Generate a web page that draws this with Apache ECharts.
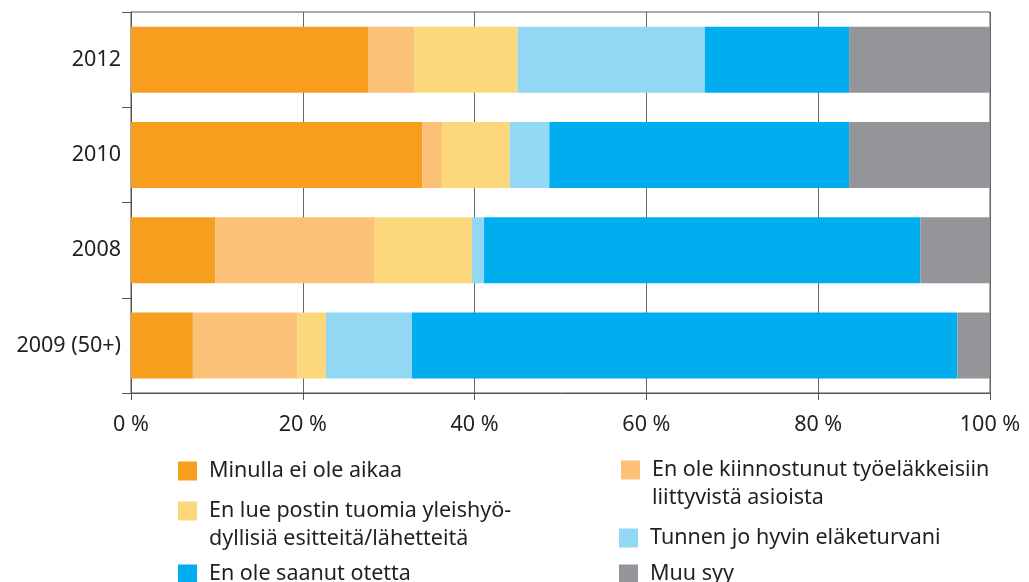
<!DOCTYPE html>
<html>
<head>
<meta charset="utf-8">
<script src="https://cdn.jsdelivr.net/npm/echarts@6/dist/echarts.min.js"></script>
<style>
  html, body { margin: 0; padding: 0; background: #fff; }
  #chart { width: 1029px; height: 582px; }
</style>
</head>
<body>
<div id="chart"></div>
<script>
// rows, top to bottom
const years = ["2012", "2010", "2008", "2009 (50+)"];

const seriesNames = [
  "Minulla ei ole aikaa",
  "En ole kiinnostunut työeläkkeisiin\nliittyvistä asioista",
  "En lue postin tuomia yleishyö-\ndyllisiä esitteitä/lähetteitä",
  "Tunnen jo hyvin eläketurvani",
  "En ole saanut otetta",
  "Muu syy",
];

// percent shares per row (same order as years)
const noTime = [27.6, 33.9, 9.8, 7.2];
const notInterested = [5.4, 2.3, 18.5, 12.2];
const dontRead = [12.0, 7.9, 11.4, 3.3];
const knowAlready = [21.8, 4.6, 1.4, 10.0];
const noStatement = [16.8, 34.9, 50.8, 63.5];
const otherReason = [16.4, 16.4, 8.1, 3.8];

const xTicks = [0, 20, 40, 60, 80, 100];

const colors = ["#F79E1E", "#FBC177", "#FDD77C", "#92D7F4", "#00AEEF", "#949598"];
const values = [noTime, notInterested, dontRead, knowAlready, noStatement, otherReason];

const font = "Noto Sans";
const textColor = "#231F20";

// square at the top of a taller box, so the icon sits on the first text line
const topSquare = "path://M0,0H19V19H0Z M0,47L19,47";

const chart = echarts.init(document.getElementById("chart"));

const legendItem = (name, left, top, twoLines) => ({
  data: [name],
  left: left,
  top: top,
  padding: 0,
  itemWidth: 19,
  itemHeight: twoLines ? 47 : 19,
  icon: twoLines ? topSquare : "rect",
  selectedMode: false,
  textStyle: {
    fontFamily: font,
    fontSize: 21.5,
    lineHeight: 28,
    color: textColor,
    padding: [0, 0, 0, 7],
  },
});

const option = {
  animation: false,
  color: colors,
  grid: {
    left: 131,
    right: 39,
    top: 12,
    height: 381,
    show: true,
    borderColor: "#555",
    borderWidth: 1,
  },
  xAxis: {
    type: "value",
    min: xTicks[0],
    max: xTicks[xTicks.length - 1],
    interval: 20,
    axisLine: { show: true, lineStyle: { color: "#555" } },
    axisTick: { show: true, length: 7, lineStyle: { color: "#555" } },
    splitLine: { show: true, lineStyle: { color: "#666", width: 1 } },
    axisLabel: {
      formatter: "{value} %",
      fontFamily: font,
      fontSize: 21.5,
      color: textColor,
      margin: 21,
    },
  },
  yAxis: {
    type: "category",
    data: years,
    inverse: true,
    axisLine: { show: true, lineStyle: { color: "#555" } },
    axisTick: { show: true, length: 9, lineStyle: { color: "#555" } },
    axisLabel: {
      fontFamily: font,
      fontSize: 21.5,
      color: textColor,
      margin: 10,
    },
  },
  legend: [
    legendItem(seriesNames[0], 178, 457, false),
    legendItem(seriesNames[2], 178, 497, true),
    legendItem(seriesNames[4], 178, 560, false),
    legendItem(seriesNames[1], 621, 456, true),
    legendItem(seriesNames[3], 619, 524, false),
    legendItem(seriesNames[5], 619, 560, false),
  ],
  series: seriesNames.map((name, i) => ({
    name: name,
    type: "bar",
    stack: "total",
    barWidth: 66,
    data: values[i],
  })),
};

chart.setOption(option);
</script>
</body>
</html>
